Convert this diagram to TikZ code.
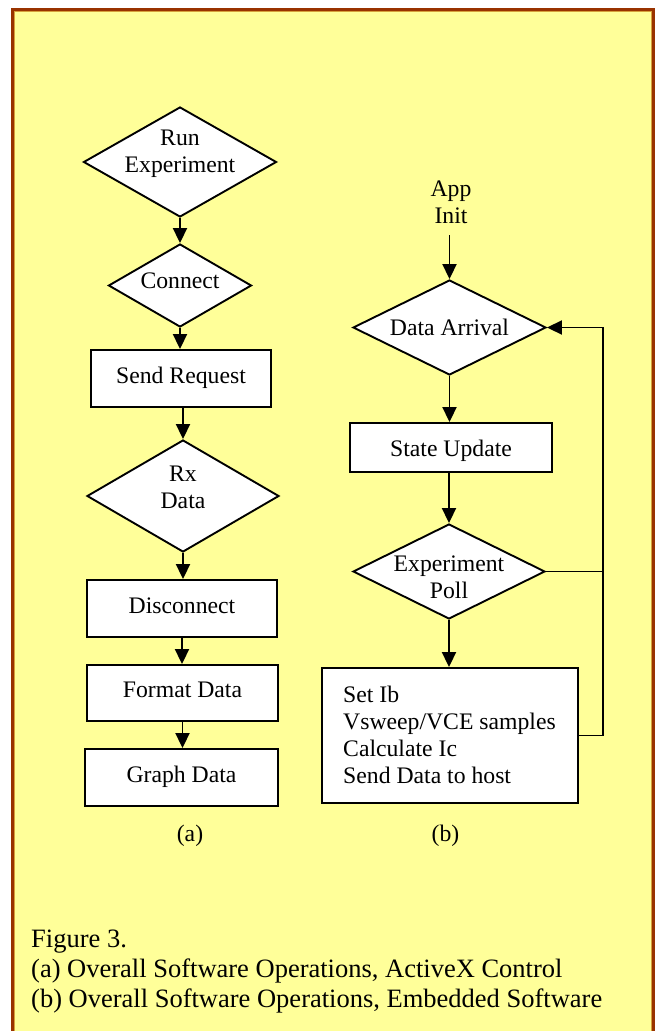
\documentclass[tikz,border=0pt]{standalone}
\usepackage{fontspec}
\setmainfont{Liberation Serif}
\usetikzlibrary{shapes.geometric,arrows.meta}
\definecolor{bg}{RGB}{255,255,153}
\definecolor{frameout}{RGB}{153,51,0}
\definecolor{framein}{RGB}{214,160,60}
\begin{document}
\begin{tikzpicture}[x=1pt,y=-1pt,
 shp/.style={draw=black,fill=white,line width=1.9pt,inner sep=0pt},
 dia/.style={shp,diamond},
 box/.style={shp,rectangle},
 lbl/.style={font=\fontsize{23.7}{27}\selectfont,inner sep=0pt},
 captxt/.style={font=\fontsize{26.5}{30}\selectfont,inner sep=0pt,anchor=base west},
 arr/.style={line width=1.9pt,-{Triangle[length=15pt,width=14pt]}},
 ln/.style={line width=1.9pt}]
\useasboundingbox (0,0) rectangle (656,1031);
\fill[white] (0,0) rectangle (656,1031);
\draw[frameout,line width=3pt,fill=bg] (12,9.5) rectangle (653.5,1040);
\draw[framein,line width=0.8pt] (14,11.5) rectangle (651.5,1040);

% (a) column
\node[dia,minimum width=193pt,minimum height=110pt] (d1) at (180,162) {};
\node[lbl,align=center] (t1) at (180,154) {Run\\Experiment};
\node[dia,minimum width=143pt,minimum height=83pt] (d2) at (180,285.5) {};
\node[lbl,anchor=base] (t2) at (180,288) {Connect};
\node[box,minimum width=180pt,minimum height=57pt] (r1) at (181,378.5) {};
\node[lbl,anchor=base] (t3) at (181,383) {Send Request};
\node[dia,minimum width=192pt,minimum height=112pt] (d3) at (183,496) {};
\node[lbl,align=center] (t4) at (183,487) {Rx\\Data};
\node[box,minimum width=190pt,minimum height=57pt] (r2) at (182,608.5) {};
\node[lbl,anchor=base] (t5) at (182,613) {Disconnect};
\node[box,minimum width=191pt,minimum height=56pt] (r3) at (182.5,693) {};
\node[lbl,anchor=base] (t6) at (182.5,697.5) {Format Data};
\node[box,minimum width=193pt,minimum height=57pt] (r4) at (181.5,777.5) {};
\node[lbl,anchor=base] (t7) at (181.5,782) {Graph Data};
\node[lbl] (ta) at (190,836) {(a)};

\draw[arr] (d1.south) -- (d2.north);
\draw[arr] (d2.south) -- (d2.south |- r1.north);
\draw[arr] (r1.south -| d3.north) -- (d3.north);
\draw[arr] (d3.south) -- (d3.south |- r2.north);
\draw[arr] (r2.south) -- (r2.south |- r3.north);
\draw[arr] (r3.south) -- (r3.south |- r4.north);

% (b) column
\node[lbl,align=center] (t8) at (451,202) {App\\Init};
\node[dia,minimum width=193pt,minimum height=95pt] (d4) at (449.5,327.5) {};
\node[lbl,anchor=base] (t9) at (449.5,335) {Data Arrival};
\node[box,minimum width=202pt,minimum height=49pt] (r5) at (451,447.5) {};
\node[lbl,anchor=base] (t10) at (451,456) {State Update};
\node[dia,minimum width=192pt,minimum height=95pt] (d5) at (449,571.5) {};
\node[lbl,align=center] (t11) at (449,577) {Experiment\\Poll};
\node[box,minimum width=256pt,minimum height=135pt] (r6) at (450,735.5) {};
\node[lbl,align=left,anchor=west] (t12) at (343,734.5) {Set Ib\\Vsweep/VCE samples\\Calculate Ic\\Send Data to host};
\node[lbl] (tb) at (445.5,836) {(b)};

\coordinate (ai) at (449.5,235);
\coordinate (loopx) at (603,0);
\draw[arr] (ai) -- (d4.north);
\draw[arr] (d4.south) -- (d4.south |- r5.north);
\draw[arr] (r5.south -| d5.north) -- (d5.north);
\draw[arr] (d5.south) -- (d5.south |- r6.north);
\draw[arr] (d5.east) -- (d5.east -| loopx) -- (d4.east -| loopx) -- (d4.east);
\draw[ln] (r6.east) -- (r6.east -| loopx) -- (d5.east -| loopx);

% caption
\node[captxt] (c1) at (31,947) {Figure 3.};
\node[captxt] (c2) at (31,977) {(a) Overall Software Operations, ActiveX Control};
\node[captxt] (c3) at (31,1007) {(b) Overall Software Operations, Embedded Software};
\end{tikzpicture}
\end{document}
